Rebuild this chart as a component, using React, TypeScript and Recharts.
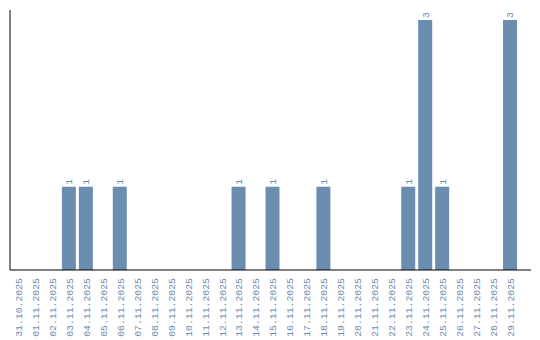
import { Bar, BarChart, LabelList, XAxis, YAxis } from "recharts";

const dates = [
    "31.10.2025", "01.11.2025", "02.11.2025", "03.11.2025", "04.11.2025",
    "05.11.2025", "06.11.2025", "07.11.2025", "08.11.2025", "09.11.2025",
    "10.11.2025", "11.11.2025", "12.11.2025", "13.11.2025", "14.11.2025",
    "15.11.2025", "16.11.2025", "17.11.2025", "18.11.2025", "19.11.2025",
    "20.11.2025", "21.11.2025", "22.11.2025", "23.11.2025", "24.11.2025",
    "25.11.2025", "26.11.2025", "27.11.2025", "28.11.2025", "29.11.2025",
];

const counts = [
    0, 0, 0, 1, 1,
    0, 1, 0, 0, 0,
    0, 0, 0, 1, 0,
    1, 0, 0, 1, 0,
    0, 0, 0, 1, 3,
    1, 0, 0, 0, 3,
];

const BAR_COLOR = "#6b8db0";
const TEXT_COLOR = "#6a8cae";

const rows = dates.map((d, i) => ({ date: d, count: counts[i] }));

// rotated date under each bar
const DateTick = (props: any) => {
    const { x, y, payload } = props;
    return (
        <text
            x={0}
            y={0}
            dy="0.35em"
            transform={`translate(${x},${y}) rotate(-90)`}
            textAnchor="end"
            fontFamily="Liberation Mono"
            fontSize={9.8}
            fill={TEXT_COLOR}
        >
            {payload.value}
        </text>
    );
};

// rotated value above each non-empty bar
const ValueLabel = (props: any) => {
    const { x, y, width, value } = props;
    if (!value) return null;
    const cx = x + width / 2;
    return (
        <text
            x={0}
            y={0}
            dy="0.35em"
            transform={`translate(${cx},${y - 2}) rotate(-90)`}
            textAnchor="start"
            fontFamily="Liberation Mono"
            fontSize={9.8}
            fill={TEXT_COLOR}
        >
            {value}
        </text>
    );
};

export default function App() {
    return (
        <div style={{ position: "absolute", left: 0, top: 0, width: 540, height: 340, background: "#fff" }}>
            <BarChart
                width={540}
                height={340}
                data={rows}
                margin={{ top: 10, right: 9, bottom: 0, left: 8 }}
            >
                <XAxis
                    dataKey="date"
                    interval={0}
                    height={70}
                    tickLine={false}
                    axisLine={{ stroke: "#000", strokeWidth: 1 }}
                    tick={<DateTick />}
                    padding={{ left: 0, right: 12 }}
                />
                <YAxis
                    width={2}
                    domain={[0, 3.12]}
                    tick={false}
                    tickLine={false}
                    axisLine={{ stroke: "#000", strokeWidth: 1 }}
                />
                <Bar dataKey="count" fill={BAR_COLOR} barSize={14} isAnimationActive={false}>
                    <LabelList dataKey="count" content={<ValueLabel />} />
                </Bar>
            </BarChart>
        </div>
    );
}
